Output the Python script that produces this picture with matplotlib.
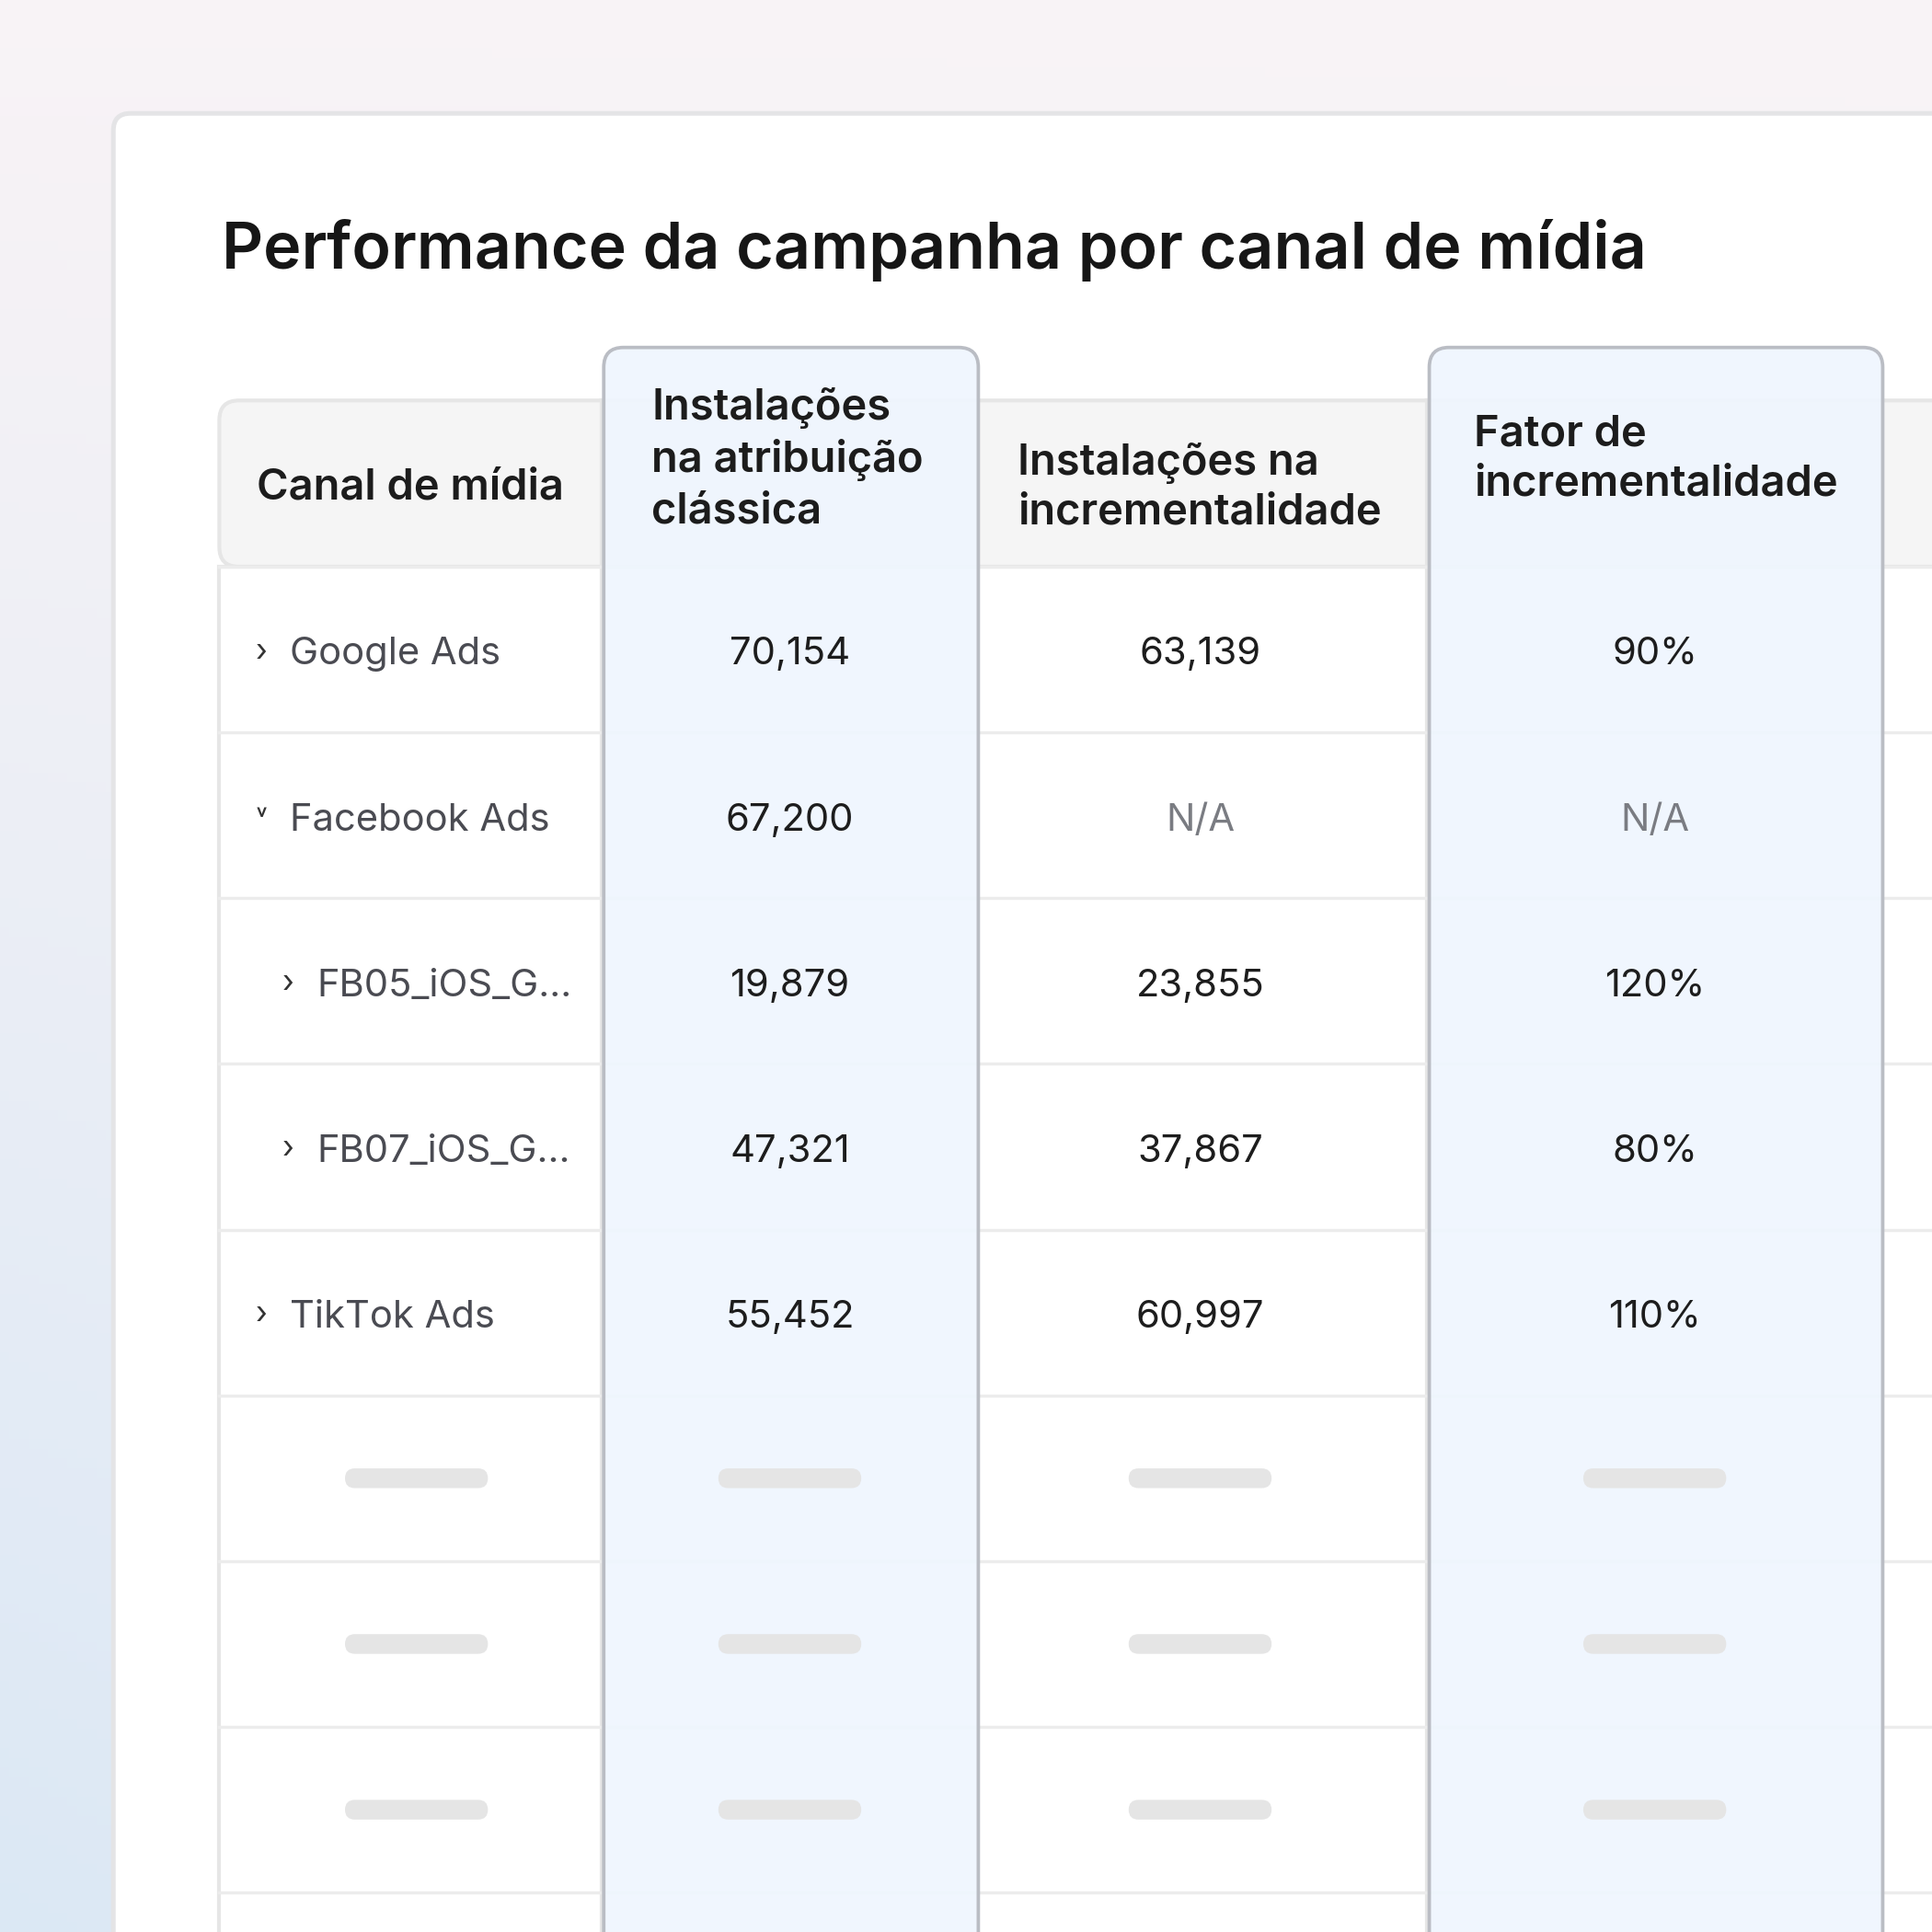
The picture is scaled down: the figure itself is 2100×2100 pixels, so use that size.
import matplotlib
matplotlib.use("Agg")
import matplotlib.pyplot as plt
from matplotlib.patches import FancyBboxPatch, Rectangle
import numpy as np

title = "Performance da campanha por canal de mídia"
headers = ["Canal de mídia", "Instalações\nna atribuição\nclássica",
           "Instalações na\nincrementalidade", "Fator de\nincrementalidade"]
channels = ["Google Ads", "Facebook Ads", "FB05_iOS_G...", "FB07_iOS_G...", "TikTok Ads"]
levels = [0, 0, 1, 1, 0]
arrows = ["›", "˅", "›", "›", "›"]
classic = ["70,154", "67,200", "19,879", "47,321", "55,452"]
incremental = ["63,139", "N/A", "23,855", "37,867", "60,997"]
factor = ["90%", "N/A", "120%", "80%", "110%"]
n_skeleton = 3

plt.rcParams['font.family'] = ['Inter', 'DejaVu Sans']
W = 1568
fig = plt.figure(figsize=(7, 7), dpi=300)
ax = fig.add_axes([0, 0, 1, 1])
ax.set_xlim(0, W); ax.set_ylim(W, 0); ax.axis('off')

yy, xx = np.mgrid[0:1:200j, 0:1:200j]
top = np.array([0.975, 0.955, 0.965]); bl = np.array([0.86, 0.91, 0.96])
t = np.clip(yy * 1.0 * (1 - 0.6 * xx), 0, 1)[..., None]
img = top * (1 - t) + bl * t
ax.imshow(img, extent=[0, W, W, 0], aspect='auto', zorder=0)

ax.add_patch(FancyBboxPatch((92, 92), 1600, 1600, boxstyle="round,pad=0,rounding_size=14",
                            fc="white", ec="#e4e4e6", lw=1.2, zorder=1))
ax.text(180, 203, title, fontsize=16.8, fontweight='semibold', color="#161616", va='center', zorder=5)

cols = [(178, 488), (490, 794), (796, 1158), (1160, 1528), (1530, 1700)]
hdr_top, hdr_bot = 325, 460
row_h = 134.5
nrows = len(channels) + n_skeleton
bottom = hdr_bot + row_h * (nrows + 1)

ax.add_patch(FancyBboxPatch((178, hdr_top), 1500, hdr_bot - hdr_top,
                            boxstyle="round,pad=0,rounding_size=16", fc="#f5f5f5", ec="#e6e6e6", lw=1.0, zorder=2))
ax.add_patch(Rectangle((178, hdr_bot), 1500, bottom, fc="white", ec="#e6e6e6", lw=1.0, zorder=2))
ax.plot([488, 488], [hdr_top, W], color="#e6e6e6", lw=1, zorder=2.5)
ax.plot([1158, 1158], [hdr_top, W], color="#e6e6e6", lw=1, zorder=2.5)
for r in range(nrows + 1):
    y = hdr_bot + row_h * r
    ax.plot([178, W], [y, y], color="#ececec", lw=0.8, zorder=2.6)
for i in (1, 3):
    x0, x1 = cols[i]
    ax.add_patch(FancyBboxPatch((x0, 282), x1 - x0, 1500, boxstyle="round,pad=0,rounding_size=16",
                                fc=(0.937, 0.965, 0.996, 0.93), ec="#babdc4", lw=0.9, zorder=3))

hs = 11.3
hc = "#1c1c1c"
ax.text(208, 396, headers[0], fontsize=hs, fontweight='semibold', color=hc, va='center', zorder=6)
ax.text(529, 373, headers[1], fontsize=hs, fontweight='semibold', color=hc, va='center', linespacing=1.32, zorder=6)
ax.text(826, 396, headers[2], fontsize=hs, fontweight='semibold', color=hc, va='center', linespacing=1.3, zorder=6)
ax.text(1196, 373, headers[3], fontsize=hs, fontweight='semibold', color=hc, va='center', linespacing=1.3, zorder=6)

cs = 10.0
centers = [641, 974, 1343]
for r, name in enumerate(channels):
    y = hdr_bot + row_h * (r + 0.5) + 4
    xo = 22 * levels[r]
    ax.text(212 + xo, y - 2, arrows[r], fontsize=7 if arrows[r] != "›" else 8, color="#333",
            va='center', ha='center', zorder=6)
    ax.text(235 + xo, y, name, fontsize=cs, color="#4a4b52", va='center', zorder=6)
    for c, vals in zip(centers, (classic, incremental, factor)):
        v = vals[r]
        ax.text(c, y, v, fontsize=cs, color="#7a7c82" if v == "N/A" else "#1d1d1d",
                va='center', ha='center', zorder=6)

for s in range(n_skeleton):
    y = hdr_bot + row_h * (len(channels) + s + 0.5)
    for c in [338] + centers:
        ax.add_patch(FancyBboxPatch((c - 58, y - 8), 116, 16, boxstyle="round,pad=0,rounding_size=8",
                                    fc="#e5e5e5", ec="none", zorder=6))

fig.savefig("out.png", dpi=300)
